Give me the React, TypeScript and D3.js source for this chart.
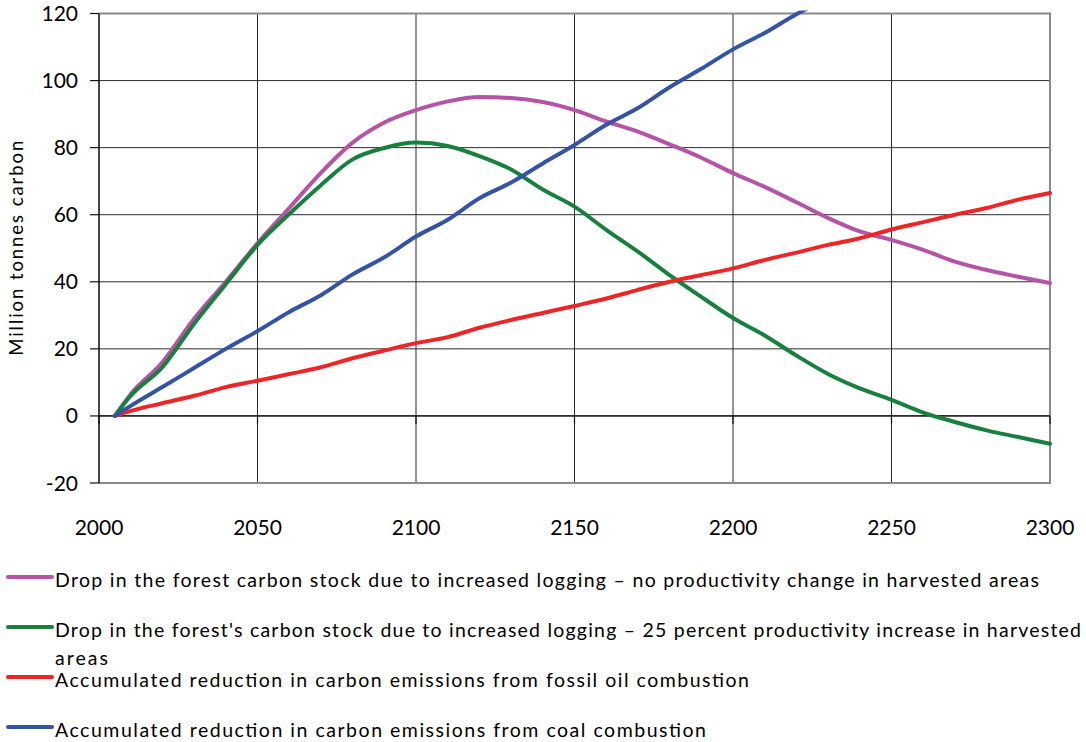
import * as d3 from "d3"

// years
const years = [2005, 2010, 2020, 2030, 2040, 2050, 2060, 2070, 2080, 2090, 2100, 2110, 2120, 2130, 2140, 2150, 2160, 2170, 2180, 2190, 2200, 2210, 2220, 2230, 2240, 2250, 2260, 2270, 2280, 2290, 2300]

const noProductivity = [0, 6.5, 16, 29, 40, 51.5, 62, 72.5, 81.5, 87.5, 91.2, 93.8, 95.1, 94.8, 93.6, 91.2, 87.8, 84.8, 81, 77, 72.4, 68.3, 63.7, 59, 55, 52.5, 49.5, 46, 43.5, 41.5, 39.6]
const productivity25 = [0, 6, 14.5, 27.5, 39.3, 51, 60.2, 68.8, 76.5, 79.9, 81.5, 80.5, 77.5, 73.5, 67.5, 62.4, 55.5, 49, 42, 35.5, 29.2, 24, 18, 12.5, 8.2, 4.8, 1, -1.8, -4.3, -6.3, -8.3]
const fossilOil = [0, 1.5, 3.8, 6, 8.6, 10.5, 12.5, 14.5, 17.2, 19.5, 21.7, 23.5, 26.3, 28.6, 30.7, 32.8, 35, 37.6, 40, 42, 44, 46.5, 48.7, 51, 53, 55.6, 57.8, 60, 62, 64.5, 66.5]
const coal = [0, 3, 8.6, 14.3, 20, 25.3, 31, 36, 42.2, 47.3, 53.5, 58.5, 64.9, 69.6, 75.3, 80.8, 86.8, 91.8, 98, 103.5, 109.3, 114.2, 119.8, 124.5]

const xTicks = [2000, 2050, 2100, 2150, 2200, 2250, 2300]
const yTicks = [-20, 0, 20, 40, 60, 80, 100, 120]

const series = [
  { name: "Drop in the forest carbon stock due to increased logging \u2013  no productivity change in harvested areas", color: "#b553a6", values: noProductivity },
  { name: "Drop in the forest's carbon stock due to increased logging \u2013 25 percent productivity increase in harvested", color: "#17803d", values: productivity25 },
  { name: "Accumulated reduction in carbon emissions from fossil oil combustion", color: "#ee2526", values: fossilOil },
  { name: "Accumulated reduction in carbon emissions from coal combustion", color: "#3453a7", values: coal },
]

// legend geometry: [sample y, text baseline, text length]
const legendRows = [
  { y: 577, base: 587, len: 984 },
  { y: 627, base: 637, len: 1026 },
  { y: 677, base: 687, len: 694 },
  { y: 727, base: 737, len: 651 },
]

const W = 1086
const H = 742
const font = "Lato, 'Open Sans', sans-serif"

export default function App() {
  const x = d3.scaleLinear().domain([2000, 2300]).range([99, 1050])
  const y = d3.scaleLinear().domain([-20, 120]).range([483, 13.5])

  const line = d3
    .line<[number, number]>()
    .x((d) => x(d[0]))
    .y((d) => y(d[1]))
    .curve(d3.curveMonotoneX)

  return (
    <div style={{ position: "absolute", left: 0, top: 0 }}>
      <svg width={W} height={H} viewBox={`0 0 ${W} ${H}`} style={{ display: "block", background: "#fff" }}>
        <defs>
          <clipPath id="plot">
            <rect x={x(2000)} y={y(120) - 3} width={x(2300) - x(2000) + 6} height={y(-20) - y(120) + 6} />
          </clipPath>
        </defs>

        {/* horizontal grid */}
        {yTicks.map((t) => (
          <line key={"h" + t} x1={x(2000)} x2={x(2300)} y1={y(t)} y2={y(t)} stroke="#2a2a2a" strokeWidth={1} />
        ))}
        {/* vertical grid */}
        {xTicks.map((t) => (
          <line key={"v" + t} x1={x(t)} x2={x(t)} y1={y(120)} y2={y(-20)} stroke="#2a2a2a" strokeWidth={1} />
        ))}

        {/* plot border (top, right, bottom) */}
        <path
          d={`M${x(2000)},${y(120)}H${x(2300)}V${y(-20)}H${x(2000)}`}
          fill="none"
          stroke="#8a8a8a"
          strokeWidth={2}
        />

        {/* value axis */}
        <line x1={x(2000)} x2={x(2000)} y1={y(120)} y2={y(-20)} stroke="#111" strokeWidth={1.2} />
        {yTicks.map((t) => (
          <line key={"yt" + t} x1={x(2000) - 9} x2={x(2000)} y1={y(t)} y2={y(t)} stroke="#111" strokeWidth={1.2} />
        ))}
        {yTicks.map((t) => (
          <text key={"yl" + t} x={78} y={y(t)} dy="0.36em" textAnchor="end" fontFamily={font} fontSize={21} fill="#000">
            {t}
          </text>
        ))}

        {/* category axis at zero */}
        <line x1={x(2000)} x2={x(2300)} y1={y(0)} y2={y(0)} stroke="#111" strokeWidth={1.2} />
        {xTicks.map((t) => (
          <line key={"xt" + t} x1={x(t)} x2={x(t)} y1={y(0)} y2={y(0) + 8} stroke="#111" strokeWidth={1.2} />
        ))}
        {xTicks.map((t) => (
          <text key={"xl" + t} x={x(t)} y={535} textAnchor="middle" fontFamily={font} fontSize={21} fill="#000">
            {t}
          </text>
        ))}

        <text
          transform={`translate(23,${y(50)}) rotate(-90)`}
          textAnchor="middle"
          fontFamily={font}
          fontSize={18.5}
          fill="#000"
          textLength={215}
          lengthAdjust="spacing"
        >
          Million tonnes carbon
        </text>

        {/* series */}
        <g clipPath="url(#plot)">
          {series.map((s) => (
            <path
              key={s.name}
              d={line(s.values.map((v, i) => [years[i], v] as [number, number])) || ""}
              fill="none"
              stroke={s.color}
              strokeWidth={4}
              strokeLinejoin="round"
              strokeLinecap="round"
            />
          ))}
        </g>

        {/* legend */}
        {series.map((s, i) => (
          <g key={"lg" + i}>
            <line x1={8} x2={52} y1={legendRows[i].y} y2={legendRows[i].y} stroke={s.color} strokeWidth={4} strokeLinecap="round" />
            <text
              x={55}
              y={legendRows[i].base}
              fontFamily={font}
              fontSize={19.5}
              fill="#000"
              textLength={legendRows[i].len}
              lengthAdjust="spacing"
            >
              {s.name}
            </text>
          </g>
        ))}
        <text x={55} y={665} fontFamily={font} fontSize={19.5} fill="#000" textLength={53} lengthAdjust="spacing">
          areas
        </text>
      </svg>
    </div>
  )
}
